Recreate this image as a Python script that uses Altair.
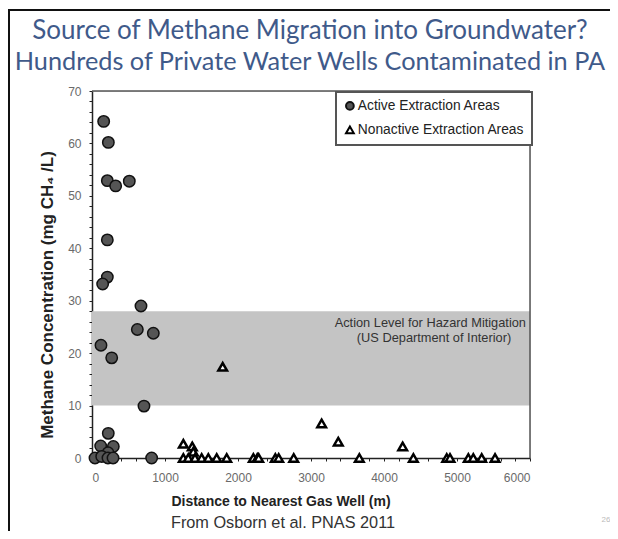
import altair as alt
import pandas as pd

# ---- data ----
active_dist = [160, 224, 210, 324, 511, 210, 210, 146, 671, 621, 840, 123, 270, 712,
               223, 119, 292, 220, 41, 133, 219, 288, 817]
active_conc = [64.2, 60.2, 52.9, 51.9, 52.8, 41.6, 34.5, 33.2, 29.0, 24.5, 23.8, 21.5, 19.1, 9.9,
               4.7, 2.3, 2.2, 1.0, 0, 0.3, 0, 0, 0]
nonactive_dist = [1790, 3146, 3374, 4256, 1251, 1374, 1388,
                  1251, 1319, 1411, 1502, 1593, 1708, 1845, 2210, 2264, 2283, 2511, 2557,
                  2763, 3662, 4402, 4859, 4904, 5155, 5223, 5338, 5521]
nonactive_conc = [17.4, 6.6, 3.1, 2.2, 2.7, 2.2, 1.2,
                  0, 0, 0, 0, 0, 0, 0, 0, 0, 0, 0, 0,
                  0, 0, 0, 0, 0, 0, 0, 0, 0]
types = ["Active Extraction Areas", "Nonactive Extraction Areas"]
band_low, band_high = 10, 28
x_ticks = list(range(0, 6001, 200))
y_ticks = list(range(0, 71, 2))

title1 = "Source of Methane Migration into Groundwater?"
title2 = "Hundreds of Private Water Wells Contaminated in PA"
x_title = "Distance to Nearest Gas Well (m)"
y_title = "Methane Concentration (mg CH\u2084 /L)"
source = "From Osborn et al. PNAS  2011"
band_text1 = "Action Level for Hazard Mitigation"
band_text2 = "(US Department of Interior)"

W, H = 438, 367
FONT = "Liberation Sans"

df_a = pd.DataFrame({"dist": active_dist, "conc": active_conc, "type": types[0]})
df_n = pd.DataFrame({"dist": nonactive_dist, "conc": nonactive_conc, "type": types[1]})

xscale = alt.Scale(domain=[0, 6000], nice=False, zero=False)
yscale = alt.Scale(domain=[0, 70], nice=False, zero=False)
shape_scale = alt.Scale(domain=types, range=["circle", "triangle-up"])
fill_scale = alt.Scale(domain=types, range=["#555555", "#ffffff"])
stroke_scale = alt.Scale(domain=types, range=["#111111", "#000000"])

xaxis = alt.Axis(values=x_ticks, format="d",
                 labelExpr="datum.value % 1000 == 0 ? datum.label : ''",
                 labelOverlap=False,
                 title=None, grid=False, tickSize=3, tickColor="#222", domainColor="#222",
                 domainWidth=1.5, labelColor="#6a6a6a", labelFontSize=12, labelFont=FONT,
                 labelPadding=11)
yaxis = alt.Axis(values=y_ticks, format="d",
                 labelExpr="datum.value % 10 == 0 ? datum.label : ''",
                 labelOverlap=False,
                 title=None, grid=False, tickSize=3, tickColor="#222", domainColor="#222",
                 domainWidth=1.5, labelColor="#6a6a6a", labelFontSize=12, labelFont=FONT,
                 labelPadding=8)

legend = alt.Legend(title=None, orient="none", legendX=244, legendY=1,
                    strokeColor="#555", padding=7, rowPadding=8,
                    labelFont=FONT, labelFontSize=13.8, labelColor="#222", labelLimit=400,
                    symbolStrokeWidth=2, symbolSize=60,
                    symbolOffset=0, labelOffset=1, fillColor="white")

band_df = pd.DataFrame({"x": [0], "x2": [6000], "y": [band_low], "y2": [band_high]})
band = alt.Chart(band_df).mark_rect(color="#c4c4c4").encode(
    x=alt.X("x:Q", scale=xscale, axis=xaxis),
    x2="x2:Q",
    y=alt.Y("y:Q", scale=yscale, axis=yaxis),
    y2="y2:Q",
)

pts_a = alt.Chart(df_a).mark_point(filled=True, size=130, strokeWidth=1.5,
                                   opacity=1).encode(
    x=alt.X("dist:Q", scale=xscale, axis=xaxis),
    y=alt.Y("conc:Q", scale=yscale, axis=yaxis),
    shape=alt.Shape("type:N", scale=shape_scale, legend=legend),
    fill=alt.Fill("type:N", scale=fill_scale, legend=legend),
    stroke=alt.Stroke("type:N", scale=stroke_scale, legend=legend),
)
pts_n = alt.Chart(df_n).mark_point(filled=True, size=75, strokeWidth=2.5,
                                   opacity=1).encode(
    x=alt.X("dist:Q", scale=xscale, axis=xaxis),
    y=alt.Y("conc:Q", scale=yscale, axis=yaxis),
    shape=alt.Shape("type:N", scale=shape_scale, legend=legend),
    fill=alt.Fill("type:N", scale=fill_scale, legend=legend),
    stroke=alt.Stroke("type:N", scale=stroke_scale, legend=legend),
)

def txt(s, x, y, size, color="#222", weight="normal", align="center", angle=0, font=FONT):
    kw = dict(align=align, baseline="middle", fontSize=size, color=color,
              fontWeight=weight, font=font)
    if angle:
        kw["angle"] = angle
    return alt.Chart(pd.DataFrame({"t": [s]})).mark_text(**kw).encode(
        text="t:N", x=alt.value(x), y=alt.value(y))

# page coordinates -> plot coordinates: subtract (92, 91)
texts = [
    txt(title1, 310 - 92, 31 - 91, 26, color="#3f5a8a", font="Lato"),
    txt(title2, 310 - 92, 62 - 91, 25.3, color="#3f5a8a", font="Lato"),
    txt(x_title, 281 - 92, 502 - 91, 14, weight="bold"),
    txt(source, 283 - 92, 523 - 91, 16.3, color="#333"),
    txt(y_title, 48 - 92, 295 - 91, 17, weight="bold", angle=270),
    txt(band_text1, 526 - 92, 323 - 91, 12.8, color="#333", align="right"),
    txt(band_text2, 434 - 92, 338 - 91, 12.8, color="#333"),
    txt("26", 606 - 92, 520 - 91, 8, color="#bbb"),
]

frame_top = alt.Chart(pd.DataFrame({"a": [0]})).mark_rule(color="#111", strokeWidth=2).encode(
    x=alt.value(-84), x2=alt.value(530), y=alt.value(-81))
frame_left = alt.Chart(pd.DataFrame({"a": [0]})).mark_rule(color="#111", strokeWidth=2).encode(
    x=alt.value(-83), y=alt.value(-81), y2=alt.value(440))

# top/right frame of plot
box_top = alt.Chart(pd.DataFrame({"a": [0]})).mark_rule(color="#555", strokeWidth=1.5).encode(
    x=alt.value(0), x2=alt.value(W), y=alt.value(0))
box_right = alt.Chart(pd.DataFrame({"a": [0]})).mark_rule(color="#555", strokeWidth=1.5).encode(
    x=alt.value(W), y=alt.value(0), y2=alt.value(H))

chart = alt.layer(band, box_top, box_right, pts_a, pts_n, frame_top, frame_left, *texts).properties(
    width=W, height=H,
    autosize=alt.AutoSizeParams(type="none"),
    padding={"left": 84, "top": 83, "right": 80, "bottom": 73},
).configure_view(stroke=None).configure(background="white").configure_legend(strokeWidth=2)

chart.save("out.html", embed_options={"renderer": "svg", "actions": False})
